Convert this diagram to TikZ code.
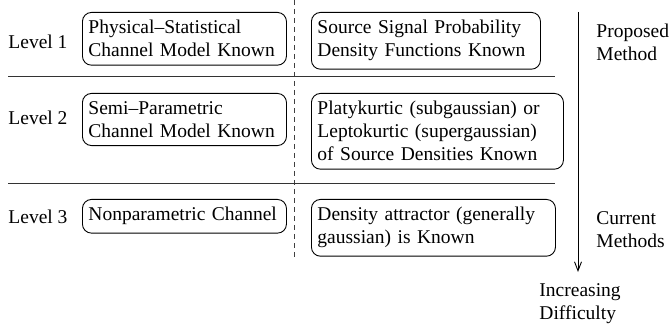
\documentclass[tikz,border=0pt]{standalone}
\usepackage{fontspec}
\setmainfont{Liberation Serif}
\usetikzlibrary{arrows.meta}

\begin{document}
\begin{tikzpicture}[x=1pt,y=-1pt,line width=0.9pt,>={Straight Barb[length=9pt,width=7pt]},
  font=\fontsize{19.5}{23}\selectfont]
\tikzstyle{lvlbox}=[draw, rounded corners=9pt, align=left, anchor=north west, inner xsep=6pt, inner ysep=8pt]
\tikzstyle{lbl}=[anchor=west, inner sep=0pt, align=left]
\useasboundingbox (0,0) rectangle (669,331);

\node[lbl] (lev1) at (8,42) {Level 1};
\node[lbl] (lev2) at (8,118) {Level 2};
\node[lbl] (lev3) at (8,217) {Level 3};

\node[lvlbox,text width=192pt] (phys) at (82,12) {Physical--Statistical\\Channel Model Known};
\node[lvlbox,text width=192pt] (semi) at (82,93) {Semi--Parametric\\Channel Model Known};
\node[lvlbox,text width=192pt] (nonp) at (82,199) {Nonparametric Channel};

\node[lvlbox,text width=217pt] (pdf) at (311,12) {Source Signal Probability\\Density Functions Known};
\node[lvlbox,text width=240pt] (kurt) at (311,93) {Platykurtic (subgaussian) or\\Leptokurtic (supergaussian)\\of Source Densities Known};
\node[lvlbox,text width=232pt] (attr) at (311,199) {Density attractor (generally\\gaussian) is Known};

\node[lbl] (prop) at (596,42) {Proposed\\Method};
\node[lbl] (curr) at (596,230) {Current\\Methods};
\node[lbl] (diff) at (539,304) {Increasing\\Difficulty};

\coordinate (dtop) at (294,0);
\coordinate (dbot) at (294,258);
\coordinate (sep1a) at (8,76);
\coordinate (sep1b) at (555,76);
\coordinate (sep2a) at (8,183);
\coordinate (sep2b) at (555,183);
\coordinate (atop) at (578,12);
\coordinate (abot) at (578,272);

\draw[black!75,dash pattern=on 5pt off 4pt] (dtop) -- (dbot);
\draw[black!80] (sep1a) -- (sep1b)
                (sep2a) -- (sep2b);
\draw[->] (atop) -- (abot);
\end{tikzpicture}
\end{document}
